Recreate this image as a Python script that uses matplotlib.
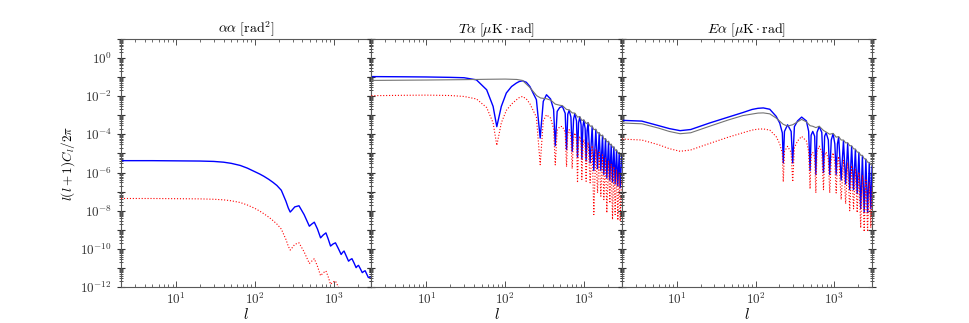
import matplotlib
matplotlib.use('Agg')
import matplotlib.pyplot as plt
import numpy as np
from matplotlib.ticker import LogLocator, FuncFormatter, NullFormatter

plt.rcParams['mathtext.fontset'] = 'cm'
plt.rcParams['font.family'] = 'serif'
plt.rcParams['font.serif'] = ['DejaVu Serif']

# alpha-alpha panel, values are log10 of l(l+1)C_l/2pi
aa_l = [2, 5, 10, 20, 30, 40, 50, 65, 80, 100, 115, 130, 150, 170, 190, 216, 247,
        265, 280, 295, 320, 362, 420, 490, 525, 566, 620, 680, 735, 795, 850, 910,
        980, 1050, 1140, 1240, 1295, 1350, 1440, 1540, 1620, 1700, 1810, 1920,
        1990, 2060, 2180, 2300, 2400, 2500, 2620, 2750, 3000]
aa_blue = [-5.38, -5.38, -5.39, -5.40, -5.42, -5.46, -5.52, -5.63, -5.77, -5.96,
           -6.08, -6.20, -6.36, -6.52, -6.68, -6.93, -7.50, -7.86, -8.07, -7.97,
           -7.80, -7.74, -8.20, -8.81, -8.70, -8.60, -8.95, -9.42, -9.27, -9.16,
           -9.48, -9.85, -9.74, -9.68, -9.97, -10.29, -10.18, -10.11, -10.37,
           -10.64, -10.56, -10.51, -10.74, -10.98, -10.90, -10.86, -11.05, -11.24,
           -11.18, -11.14, -11.32, -11.50, -11.45]
aa_red = [-7.36, -7.36, -7.37, -7.38, -7.40, -7.43, -7.48, -7.57, -7.70, -7.88,
          -8.02, -8.16, -8.34, -8.52, -8.70, -8.96, -9.50, -9.86, -10.06, -9.95,
          -9.76, -9.68, -10.15, -10.76, -10.64, -10.51, -10.90, -11.40, -11.25,
          -11.15, -11.46, -11.85, -11.73, -11.68, -11.98, -12.30, -12.18, -12.10,
          -12.36, -12.60, -12.55, -12.50, -12.74, -13.00, -12.92, -12.90, -13.05,
          -13.20, -13.16, -13.10, -13.30, -13.50, -13.40]

# T-alpha panel
ta_l = [2, 5, 10, 20, 30, 43, 58, 70, 78, 89, 103, 120, 138, 150, 165, 185, 205,
        248, 277, 303, 333, 375, 410, 430, 455, 490, 530, 575, 598, 620, 646, 680,
        705, 735, 762, 800, 824, 850, 881, 915, 935, 965, 991, 1030, 1060, 1090,
        1124, 1191, 1264, 1327, 1407, 1479, 1552, 1629, 1711, 1778, 1868, 1941,
        2039, 2118, 2205, 2291, 2384, 2474, 2577, 2677, 2786, 2865, 3000]
ta_blue = [-0.98, -0.99, -1.00, -1.02, -1.04, -1.15, -1.67, -2.54, -3.60, -2.54,
           -1.84, -1.50, -1.32, -1.24, -1.20, -1.28, -1.50, -2.19, -4.20, -2.28,
           -1.93, -2.15, -2.70, -4.60, -2.80, -2.60, -2.54, -2.90, -4.80, -2.95,
           -2.75, -3.10, -4.90, -3.20, -2.92, -3.30, -5.20, -3.40, -3.10, -3.50,
           -5.30, -3.60, -3.27, -3.70, -5.40, -3.80, -3.41, -5.50, -3.59, -5.90,
           -3.76, -5.80, -3.94, -5.90, -4.07, -6.10, -4.25, -6.30, -4.39, -6.40,
           -4.54, -6.50, -4.68, -6.60, -4.84, -6.70, -4.98, -6.80, -5.05]
ta_red = [-1.98, -1.96, -1.95, -1.97, -2.02, -2.15, -2.60, -3.40, -4.58, -3.40,
          -2.75, -2.42, -2.20, -2.08, -2.02, -2.15, -2.40, -3.10, -5.59, -3.30,
          -2.98, -3.15, -3.70, -5.60, -3.80, -3.60, -3.59, -3.90, -5.70, -3.95,
          -3.76, -4.10, -5.80, -4.20, -3.93, -4.30, -6.54, -4.40, -4.10, -4.50,
          -6.37, -4.60, -4.27, -4.70, -6.46, -4.80, -4.42, -6.54, -4.60, -8.20,
          -4.77, -7.07, -4.95, -7.24, -5.08, -7.42, -5.26, -8.11, -5.40, -7.60,
          -5.55, -8.46, -5.69, -8.20, -5.85, -8.50, -5.99, -8.55, -6.06]
ta_l_gray = [2, 10, 30, 60, 100, 140, 165, 205, 250, 280, 333, 380, 430, 490, 530,
             598, 646, 705, 762, 824, 881, 935, 991, 1060, 1124, 1191, 1264, 1327,
             1407, 1479, 1552, 1629, 1711, 1778, 1868, 1941, 2039, 2118, 2205, 2291,
             2384, 2474, 2577, 2677, 2786, 2865, 3000]
ta_gray = [-1.18, -1.16, -1.14, -1.12, -1.11, -1.13, -1.18, -1.55, -1.98, -2.10,
           -2.14, -2.22, -2.42, -2.48, -2.50, -2.70, -2.72, -2.88, -2.89, -3.10,
           -3.07, -3.28, -3.24, -3.44, -3.38, -3.58, -3.56, -3.76, -3.73, -3.93,
           -3.91, -4.08, -4.04, -4.25, -4.22, -4.40, -4.36, -4.55, -4.51, -4.68,
           -4.65, -4.84, -4.81, -4.98, -4.95, -5.05, -5.04]

# E-alpha panel
ea_l = [2, 3.6, 5.9, 8, 11, 15, 26, 45, 69, 90, 107, 125, 151, 182, 202, 218, 224,
        232, 254, 282, 295, 310, 340, 383, 440, 470, 490, 505, 530, 560, 580, 600,
        640, 690, 725, 750, 783, 835, 870, 910, 960, 1010, 1050, 1090, 1130, 1215,
        1300, 1385, 1470, 1560, 1650, 1745, 1840, 1940, 2040, 2150, 2260, 2380,
        2500, 2630, 2760, 2890, 3000]
ea_blue = [-3.27, -3.31, -3.55, -3.70, -3.81, -3.75, -3.41, -3.10, -2.86, -2.70,
           -2.64, -2.62, -2.69, -3.06, -3.41, -3.93, -5.50, -3.85, -3.50, -3.85,
           -5.50, -3.60, -3.30, -3.10, -3.30, -3.84, -5.90, -4.05, -3.85, -4.10,
           -6.10, -3.90, -3.59, -3.90, -6.00, -4.10, -3.92, -4.30, -6.10, -4.30,
           -3.97, -4.50, -6.10, -4.50, -4.15, -6.40, -4.33, -6.60, -4.47, -6.90,
           -4.63, -6.90, -4.80, -7.10, -4.97, -7.90, -5.13, -8.10, -5.32, -8.10,
           -5.50, -7.90, -5.65]
ea_red = [-4.25, -4.30, -4.55, -4.75, -4.89, -4.82, -4.48, -4.15, -3.92, -3.78,
          -3.73, -3.72, -3.78, -4.12, -4.50, -5.00, -6.49, -4.90, -4.63, -4.95,
          -6.49, -4.70, -4.35, -4.11, -4.35, -4.90, -6.86, -5.10, -4.95, -5.20,
          -7.07, -4.90, -4.62, -4.90, -6.90, -5.10, -4.93, -5.30, -7.07, -5.30,
          -4.97, -5.50, -7.07, -5.50, -5.16, -7.42, -5.34, -7.64, -5.48, -8.00,
          -5.64, -7.90, -5.81, -8.10, -5.98, -8.90, -6.14, -9.10, -6.33, -9.10,
          -6.51, -8.90, -6.66]
ea_l_gray = [2, 3.6, 5.9, 8, 11, 15, 26, 45, 69, 90, 107, 125, 151, 182, 224, 254,
             295, 340, 383, 440, 490, 530, 580, 640, 725, 783, 870, 960, 1050, 1130,
             1215, 1300, 1385, 1470, 1560, 1650, 1745, 1840, 1940, 2040, 2150, 2260,
             2380, 2500, 2630, 2760, 2890, 3000]
ea_gray = [-3.41, -3.45, -3.68, -3.85, -3.97, -3.92, -3.58, -3.25, -3.02, -2.94,
           -2.89, -2.88, -2.93, -3.15, -3.48, -3.57, -3.50, -3.35, -3.22, -3.35,
           -3.55, -3.58, -3.65, -3.58, -3.80, -3.88, -4.00, -3.95, -4.15, -4.12,
           -4.30, -4.30, -4.45, -4.44, -4.60, -4.60, -4.76, -4.77, -4.93, -4.94,
           -5.10, -5.10, -5.28, -5.29, -5.46, -5.47, -5.58, -5.62]

titles = [r'$\alpha\alpha\ [\mathrm{rad}^2]$',
          r'$T\alpha\ [\mu\mathrm{K}\cdot\mathrm{rad}]$',
          r'$E\alpha\ [\mu\mathrm{K}\cdot\mathrm{rad}]$']

panels = [
    (aa_l, aa_blue, aa_red, None, None),
    (ta_l, ta_blue, ta_red, ta_l_gray, ta_gray),
    (ea_l, ea_blue, ea_red, ea_l_gray, ea_gray),
]


def exp_label(v, pos):
    k = int(round(np.log10(v)))
    if k % 2 == 0:
        return r'$10^{%d}$' % k
    return ''


def xexp_label(v, pos):
    k = int(round(np.log10(v)))
    return r'$10^{%d}$' % k


fig, axes = plt.subplots(1, 3, figsize=(9.69, 3.23), dpi=100, sharey=True)
fig.subplots_adjust(left=0.1249, right=0.900, bottom=0.111, top=0.880, wspace=0)

for i, ax in enumerate(axes):
    l, blue, red, lg, gray = panels[i]
    ax.plot(l, 10.0 ** np.array(blue), color='blue', lw=1.0, zorder=2)
    if lg is not None:
        ax.plot(lg, 10.0 ** np.array(gray), color='0.45', lw=0.8, zorder=3)
    ax.plot(l, 10.0 ** np.array(red), color='red', lw=0.8, ls=':', zorder=4)

    ax.set_xscale('log')
    ax.set_yscale('log')
    ax.set_xlim(2, 3000)
    ax.set_ylim(1e-12, 10)
    ax.set_title(titles[i], fontsize=10, pad=2)
    ax.set_xlabel(r'$l$', fontsize=11, labelpad=0)

    ax.xaxis.set_major_locator(LogLocator(base=10, numticks=10))
    ax.xaxis.set_minor_locator(LogLocator(base=10, subs=np.arange(2, 10), numticks=20))
    ax.xaxis.set_major_formatter(FuncFormatter(xexp_label))
    ax.xaxis.set_minor_formatter(NullFormatter())
    ax.yaxis.set_major_locator(LogLocator(base=10, numticks=30))
    ax.yaxis.set_minor_locator(LogLocator(base=10, subs=np.arange(2, 10), numticks=30))
    ax.yaxis.set_major_formatter(FuncFormatter(exp_label))
    ax.yaxis.set_minor_formatter(NullFormatter())

    ax.tick_params(axis='x', which='both', direction='in', top=True, bottom=True,
                   labelsize=9.5, colors='0.2', pad=3)
    ax.tick_params(axis='x', which='major', length=4, width=0.6)
    ax.tick_params(axis='x', which='minor', length=2, width=0.5)
    ax.tick_params(axis='y', which='both', direction='inout', left=True, right=True,
                   labelsize=9.5, colors='0.2')
    ax.tick_params(axis='y', which='major', length=6, width=0.8)
    ax.tick_params(axis='y', which='minor', length=3.5, width=0.6)
    for s in ax.spines.values():
        s.set_color('0.35')
        s.set_linewidth(0.8)

axes[0].set_ylabel(r'$l(l+1)C_l/2\pi$', fontsize=9.5, labelpad=2)

fig.savefig('out.png', dpi=100)
